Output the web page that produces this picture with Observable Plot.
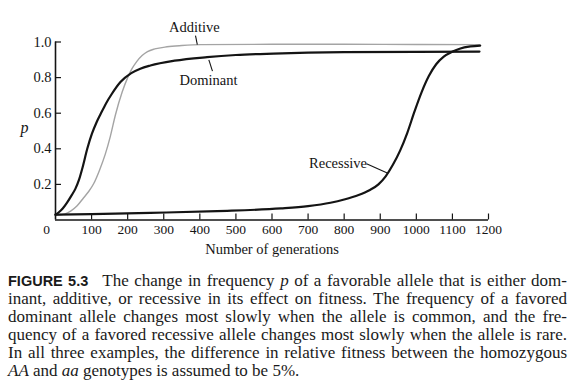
<!DOCTYPE html>
<html>
<head>
<meta charset="utf-8">
<script src="https://cdn.jsdelivr.net/npm/d3@7"></script>
<script src="https://cdn.jsdelivr.net/npm/@observablehq/plot@0.6"></script>
<style>
  html, body { margin: 0; padding: 0; background: #fff; }
  #wrap { width: 580px; }
  .cap { padding: 7px 13px 0 8px; font-family: "Liberation Serif", serif; font-size: 17px; line-height: 18px; color: #1a1a1a; }
  .cap .l { text-align: justify; text-align-last: justify; }
  .cap .fig { font-family: "Liberation Sans", sans-serif; font-weight: bold; font-size: 14.5px; margin-right: 14px; }
</style>
</head>
<body>
<div id="wrap"></div>
<script>
// ---- data ----
const dominantGen = [0, 10, 20, 32, 45, 55, 65, 75, 88, 101, 113, 125, 140, 155, 180, 210, 235, 263, 330, 420, 500, 604, 700, 800, 1000, 1175];
const dominantP   = [0.03, 0.045, 0.065, 0.098, 0.14, 0.175, 0.225, 0.295, 0.4, 0.485, 0.545, 0.595, 0.655, 0.705, 0.775, 0.825, 0.85, 0.868, 0.895, 0.915, 0.927, 0.935, 0.94, 0.943, 0.945, 0.946];

const additiveGen = [0, 25, 42, 60, 78, 92, 106, 122, 138, 152, 166, 185, 200, 212, 225, 240, 255, 275, 309, 350, 402, 600, 800, 1000, 1175];
const additiveP   = [0.025, 0.033, 0.05, 0.08, 0.125, 0.16, 0.205, 0.28, 0.37, 0.47, 0.59, 0.72, 0.8, 0.85, 0.89, 0.924, 0.946, 0.961, 0.973, 0.98, 0.985, 0.987, 0.987, 0.986, 0.985];

const recessiveGen = [0, 100, 263, 448, 625, 700, 762, 800, 840, 870, 895, 915, 935, 955, 975, 995, 1015, 1035, 1055, 1076, 1099, 1120, 1150, 1177];
const recessiveP   = [0.03, 0.033, 0.04, 0.05, 0.065, 0.078, 0.097, 0.115, 0.14, 0.167, 0.2, 0.245, 0.31, 0.39, 0.49, 0.61, 0.72, 0.81, 0.875, 0.918, 0.945, 0.962, 0.975, 0.98];

const xTicks = [100, 200, 300, 400, 500, 600, 700, 800, 900, 1000, 1100, 1200];
const xOrigin = [0];
const yTicks = [0.2, 0.4, 0.6, 0.8, 1.0];
const xTitle = "Number of generations";
const yTitle = "p";

const labelText = ["Additive", "Dominant", "Recessive"];
const labelGen  = [385, 424, 783];
const labelP    = [1.081, 0.784, 0.317];
const leaderGen1 = [388, 425, 862];
const leaderP1   = [1.036, 0.900, 0.316];
const leaderGen2 = [393, 435, 921];
const leaderP2   = [0.985, 0.836, 0.263];

// ---- build tables ----
const toRows = (gs, ps) => gs.map((g, i) => ({gen: g, p: ps[i]}));
const dominant = toRows(dominantGen, dominantP);
const additive = toRows(additiveGen, additiveP);
const recessive = toRows(recessiveGen, recessiveP);
const labels = labelText.map((t, i) => ({text: t, gen: labelGen[i], p: labelP[i]}));
const leaders = labelText.map((t, i) => ({x1: leaderGen1[i], y1: leaderP1[i], x2: leaderGen2[i], y2: leaderP2[i]}));

const W = 580, H = 265, mL = 55, mR = 92, mT = 41.5, mB = 45.5;
const plotW = W - mL - mR, plotH = H - mT - mB;
const ink = "#141414";

const chart = Plot.plot({
  width: W, height: H,
  marginLeft: mL, marginRight: mR, marginTop: mT, marginBottom: mB,
  x: {domain: [0, 1200]},
  y: {domain: [0, 1]},
  style: {fontFamily: "Liberation Serif, serif", fontSize: "13px", background: "white", color: ink},
  marks: [
    Plot.line(additive, {x: "gen", y: "p", stroke: "#a4a4a4", strokeWidth: 1.4, curve: "monotone-x"}),
    Plot.line(dominant, {x: "gen", y: "p", stroke: ink, strokeWidth: 2.2, curve: "monotone-x"}),
    Plot.line(recessive, {x: "gen", y: "p", stroke: ink, strokeWidth: 2.2, curve: "monotone-x"}),
    Plot.ruleX(xOrigin, {x: d => d, stroke: ink, strokeWidth: 1.6}),
    Plot.ruleY([0], {stroke: ink, strokeWidth: 1.6}),
    Plot.tickX(xTicks, {x: d => d, insetTop: plotH - 6, stroke: ink, strokeWidth: 1.2}),
    Plot.tickY(yTicks, {y: d => d, insetRight: plotW - 6, stroke: ink, strokeWidth: 1.2}),
    Plot.axisX(xTicks, {tickSize: 0, tickPadding: 4, fontSize: 13.5, tickFormat: d => String(d), label: null}),
    Plot.axisY(yTicks, {tickSize: 0, tickPadding: 4, fontSize: 14.5, tickFormat: d3.format(".1f"), label: null}),
    Plot.text(xOrigin, {x: d => d, text: d => String(d), frameAnchor: "bottom", lineAnchor: "top", dy: 4, dx: -9, fontSize: 13.5}),
    Plot.text([xTitle], {frameAnchor: "bottom", dy: 34, fontSize: 14.5}),
    Plot.text([yTitle], {frameAnchor: "left", dx: -35, dy: -3.5, fontStyle: "italic", fontSize: 16}),
    Plot.link(leaders, {x1: "x1", y1: "y1", x2: "x2", y2: "y2", stroke: ink, strokeWidth: 1.1}),
    Plot.text(labels, {x: "gen", y: "p", text: "text", fontSize: 14.5})
  ]
});

const wrap = document.getElementById("wrap");
wrap.appendChild(chart);

const cap = document.createElement("div");
cap.className = "cap";
cap.innerHTML =
  '<div class="l"><span class="fig">FIGURE 5.3</span>The change in frequency <i>p</i> of a favorable allele that is either dom-</div>' +
  '<div class="l">inant, additive, or recessive in its effect on fitness. The frequency of a favored</div>' +
  '<div class="l">dominant allele changes most slowly when the allele is common, and the fre-</div>' +
  '<div class="l">quency of a favored recessive allele changes most slowly when the allele is rare.</div>' +
  '<div class="l">In all three examples, the difference in relative fitness between the homozygous</div>' +
  '<div><i>AA</i> and <i>aa</i> genotypes is assumed to be 5%.</div>';
wrap.appendChild(cap);
</script>
</body>
</html>
